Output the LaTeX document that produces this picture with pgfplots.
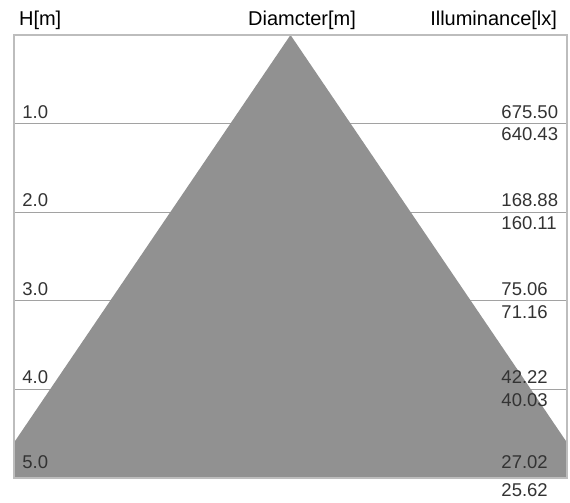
\documentclass[border=0pt]{standalone}
\usepackage{fontspec}
\setmainfont{Liberation Sans}
\usepackage{pgfplots}
\usepackage{pgfplotstable}
\pgfplotsset{compat=1.18}
\definecolor{fillgray}{HTML}{919191}
\definecolor{gridgray}{HTML}{A2A2A2}
\definecolor{framegray}{HTML}{BDBDBD}
\definecolor{txt}{HTML}{333333}

\pgfplotstableread{
y lab
0.865 675.50
1.124 640.43
1.865 168.88
2.124 160.11
2.865 75.06
3.124 71.16
3.865 42.22
4.124 40.03
4.82 27.02
5.135 25.62
}\illum
\pgfplotstableread{
y lab
0.865 1.0
1.865 2.0
2.865 3.0
3.865 4.0
4.82 5.0
}\hgt

\begin{document}
\begin{tikzpicture}
\begin{axis}[name=ax, scale only axis, width=276.5pt, height=221.5pt,
  xmin=-4.6, xmax=4.6, ymin=0, ymax=5, y dir=reverse,
  ytick={1,2,3,4}, xtick=\empty, yticklabels={}, major tick length=0pt,
  ymajorgrids, grid style={gridgray, line width=0.6pt},
  axis line style={framegray, line width=1pt},
  clip=false,
  nodes near coords style={anchor=west, inner sep=0pt, font=\fontsize{9.25}{11}\selectfont, text=txt},
  every node/.append style={font=\fontsize{9.25}{11}\selectfont, text=txt, inner sep=0pt}]
% cone (clipped to the frame)
\addplot[fill=fillgray, draw=none] coordinates {(0,0) (4.6,4.6) (4.6,5) (-4.6,5) (-4.6,4.6)} -- cycle;
% frame on top
\draw[framegray, line width=1pt] (rel axis cs:0,0) rectangle (rel axis cs:1,1);
% height labels
\addplot[draw=none, mark=none, nodes near coords, point meta=explicit symbolic]
  table[x expr=-4.467, y=y, meta=lab] {\hgt};
% illuminance labels
\addplot[draw=none, mark=none, nodes near coords, point meta=explicit symbolic]
  table[x expr=3.503, y=y, meta=lab] {\illum};
% headers
\node[anchor=west] at (axis cs:-4.633,-0.169) {H[m]};
\node[anchor=center] at (axis cs:0.192,-0.169) {Diamcter[m]};
\node[anchor=east] at (axis cs:4.551,-0.169) {Illuminance[lx]};
\end{axis}
\pgfresetboundingbox
\path ([shift={(-7pt,-12pt)}]ax.south west) rectangle ([shift={(1.5pt,17.5pt)}]ax.north east);
\end{tikzpicture}
\end{document}
